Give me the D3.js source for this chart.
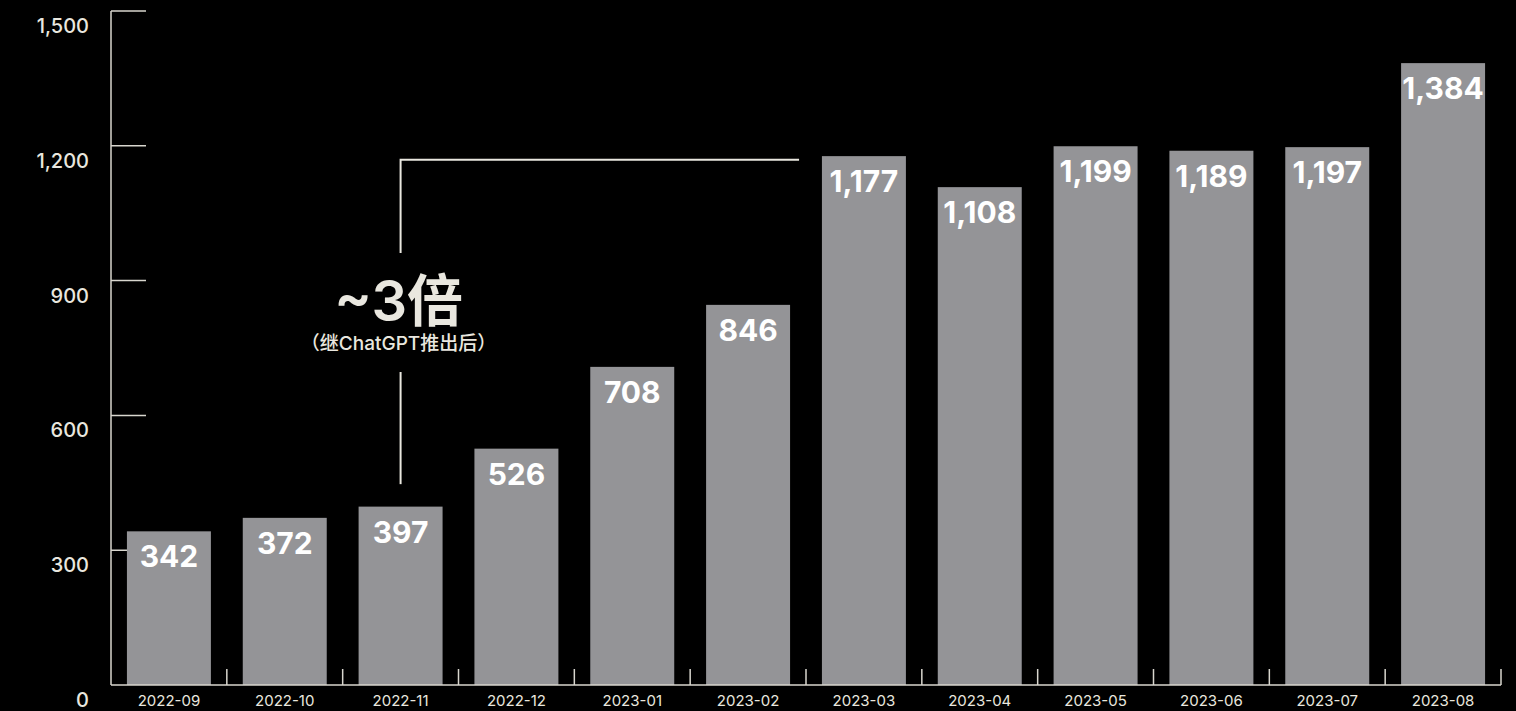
<!DOCTYPE html>
<html lang="zh">
<head>
  <meta charset="UTF-8">
  <style>
    html, body { margin: 0; padding: 0; background: #000; }
    svg { display: block; font-family: Inter, "Noto Sans CJK SC", sans-serif; }
    .bar { fill: #949497; }
    .bar-text { fill: #fff; font-size: 30px; font-weight: 700; text-anchor: middle; }
    .y-label { fill: #e9e7df; font-size: 20px; font-weight: 500; text-anchor: end; }
    .x-label { fill: #e9e7df; font-size: 15px; text-anchor: middle; }
    .axis-line { stroke: #d8d6ce; stroke-width: 1.5; fill: none; }
    .note-line { stroke: #e9e7df; stroke-width: 2; fill: none; }
  </style>
  <script src="https://d3js.org/d3.v7.min.js"></script>
</head>
<body>
  <svg width="1516" height="711" id="chart"></svg>
  <script>
    // monthly values
    const months = ["2022-09", "2022-10", "2022-11", "2022-12", "2023-01", "2023-02",
                    "2023-03", "2023-04", "2023-05", "2023-06", "2023-07", "2023-08"];
    const values = [342, 372, 397, 526, 708, 846, 1177, 1108, 1199, 1189, 1197, 1384];
    const yTicks = [0, 300, 600, 900, 1200, 1500];

    const svg = d3.select("#chart");
    const fmt = d3.format(",");

    const x = d3.scaleBand()
      .domain(months)
      .range([111, 1501])
      .paddingInner(0.275)
      .paddingOuter(0.1375);

    const y = d3.scaleLinear()
      .domain([0, 1500])
      .range([685, 11]);

    // y axis line + ticks
    svg.append("line").attr("class", "axis-line")
      .attr("x1", 111).attr("x2", 111)
      .attr("y1", y(1500)).attr("y2", y(0));

    svg.selectAll(".y-tick")
      .data(yTicks.filter(d => d > 0))
      .enter().append("line")
      .attr("class", "axis-line")
      .attr("x1", 111).attr("x2", 146)
      .attr("y1", d => y(d)).attr("y2", d => y(d));

    svg.selectAll(".y-label")
      .data(yTicks)
      .enter().append("text")
      .attr("class", "y-label")
      .attr("x", 89)
      .attr("y", d => y(d) + 22)
      .text(d => fmt(d));

    // bars
    svg.selectAll(".bar")
      .data(values)
      .enter().append("rect")
      .attr("class", "bar")
      .attr("x", (d, i) => x(months[i]))
      .attr("y", d => y(d))
      .attr("width", x.bandwidth())
      .attr("height", d => y(0) - y(d));

    svg.selectAll(".bar-text")
      .data(values)
      .enter().append("text")
      .attr("class", "bar-text")
      .attr("x", (d, i) => x(months[i]) + x.bandwidth() / 2)
      .attr("y", d => y(d) + 36)
      .text(d => fmt(d));

    // x axis baseline and separator ticks
    svg.append("line").attr("class", "axis-line")
      .attr("x1", 111).attr("x2", 1501)
      .attr("y1", y(0)).attr("y2", y(0));

    svg.selectAll(".x-tick")
      .data(months)
      .enter().append("line")
      .attr("class", "axis-line")
      .attr("x1", d => x(d) + x.step() - x.step() * 0.1375)
      .attr("x2", d => x(d) + x.step() - x.step() * 0.1375)
      .attr("y1", y(0) - 16).attr("y2", y(0));

    svg.selectAll(".x-label")
      .data(months)
      .enter().append("text")
      .attr("class", "x-label")
      .attr("x", d => x(d) + x.bandwidth() / 2)
      .attr("y", 706)
      .text(d => d);

    // annotation bracket
    const cx = x("2022-11") + x.bandwidth() / 2;
    const topY = y(1169);
    const endX = x("2023-02") + x.bandwidth() + 9;

    svg.append("path").attr("class", "note-line")
      .attr("d", `M${endX},${topY} H${cx} V253`);
    svg.append("line").attr("class", "note-line")
      .attr("x1", cx).attr("x2", cx)
      .attr("y1", 372).attr("y2", y(447));

    svg.append("text")
      .attr("x", cx - 2).attr("y", 321)
      .attr("text-anchor", "middle")
      .attr("fill", "#e9e7df")
      .style("font-size", "56px")
      .style("font-weight", 600)
      .text("~3倍");

    svg.append("text")
      .attr("x", cx - 2).attr("y", 350)
      .attr("text-anchor", "middle")
      .attr("fill", "#e9e7df")
      .style("font-size", "19px")
      .style("font-weight", 500)
      .text("（继ChatGPT推出后）");
  </script>
</body>
</html>
